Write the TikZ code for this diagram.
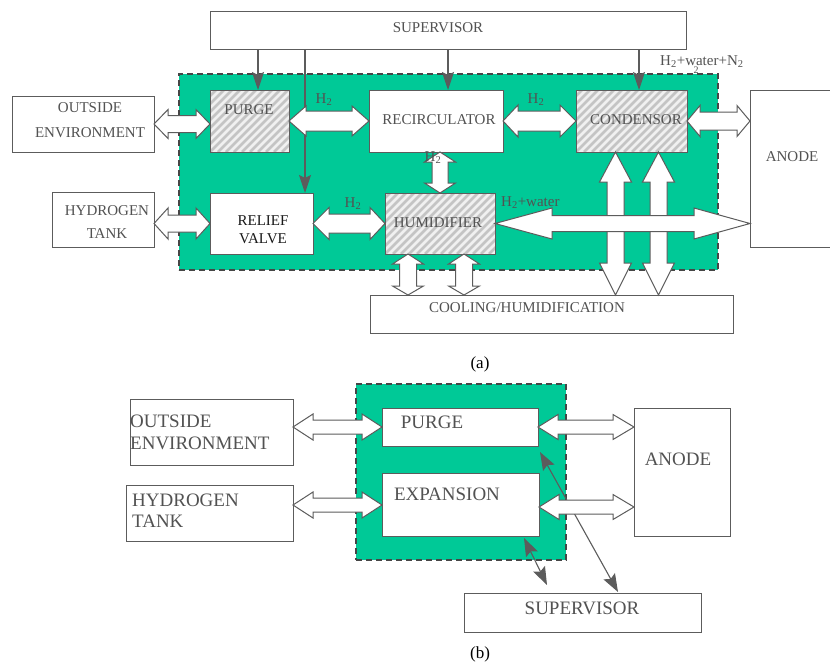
\documentclass[tikz,border=0pt]{standalone}
\usepackage{fontspec}
\setmainfont{Liberation Serif}
\usetikzlibrary{calc,arrows.meta}

\definecolor{ctrlgreen}{RGB}{0,201,151}
\definecolor{edgegray}{RGB}{92,92,92}
\definecolor{inkgray}{RGB}{82,82,82}
\definecolor{dashgray}{RGB}{70,70,70}
\definecolor{hatchbg}{RGB}{240,240,240}
\definecolor{hatchfg}{RGB}{196,196,196}

% horizontal double block arrow: left tip, right tip, half shaft, half head, left head length, right head length
\newcommand\hblk[6]{%
  \draw[blk] let \p1=#1, \p2=#2 in
    (\x1,\y1) -- (\x1+#5pt,\y1+#4pt) -- (\x1+#5pt,\y1+#3pt) -- (\x2-#6pt,\y1+#3pt)
    -- (\x2-#6pt,\y1+#4pt) -- (\x2,\y1) -- (\x2-#6pt,\y1-#4pt) -- (\x2-#6pt,\y1-#3pt)
    -- (\x1+#5pt,\y1-#3pt) -- (\x1+#5pt,\y1-#4pt) -- cycle;}
% vertical double block arrow: top tip, bottom tip, half shaft, half head, top head length, bottom head length
\newcommand\vblk[6]{%
  \draw[blk] let \p1=#1, \p2=#2 in
    (\x1,\y1) -- (\x1+#4pt,\y1-#5pt) -- (\x1+#3pt,\y1-#5pt) -- (\x1+#3pt,\y2+#6pt)
    -- (\x1+#4pt,\y2+#6pt) -- (\x1,\y2) -- (\x1-#4pt,\y2+#6pt) -- (\x1-#3pt,\y2+#6pt)
    -- (\x1-#3pt,\y1-#5pt) -- (\x1-#4pt,\y1-#5pt) -- cycle;}

\tikzset{
  unit/.style={rectangle, draw=edgegray, line width=1pt, fill=white,
    inner sep=0pt, outer sep=0pt, anchor=north west},
  hatched/.style={unit, fill=hatchbg, path picture={
    \foreach \k in {-80,-72,...,150}{
      \draw[hatchfg, line width=2.8pt]
        ([xshift=\k pt]path picture bounding box.south west) -- ++(150pt,150pt);}}},
  zone/.style={rectangle, fill=ctrlgreen, draw=dashgray, line width=1.5pt,
    dash pattern=on 6pt off 4pt, inner sep=0pt, outer sep=0pt, anchor=north west},
  lblA/.style={text=inkgray, font=\fontsize{15}{25}\selectfont, inner sep=0pt, align=center},
  lblB/.style={text=inkgray, font=\fontsize{19}{21.5}\selectfont, inner sep=0pt, align=left},
  flow/.style={text=inkgray, font=\fontsize{15}{18}\selectfont, inner sep=0pt},
  capt/.style={text=black, font=\fontsize{17}{20}\selectfont, inner sep=0pt},
  blk/.style={draw=edgegray, fill=white, line width=1pt, line join=miter},
  cmd/.style={draw=edgegray, line width=1.1pt, -{Stealth[length=18pt,width=12pt,inset=3pt]}},
  link/.style={draw=edgegray, line width=1.1pt,
    {Stealth[length=18pt,width=13pt,inset=3pt]}-{Stealth[length=18pt,width=13pt,inset=3pt]}},
}

\begin{document}
\begin{tikzpicture}[x=1pt,y=-1pt]
\useasboundingbox (0,0) rectangle (830,664);
\clip (0,0) rectangle (830,664);

% ---------------- (a) full anode subsystem ----------------
\node[zone, minimum width=539pt, minimum height=196pt] (zoneA) at (179,74) {};

\node[unit, minimum width=476pt, minimum height=38pt] (supA) at (210,11) {};
\node[unit, minimum width=142pt, minimum height=56pt] (outA) at (12,96) {};
\node[unit, minimum width=102pt, minimum height=55pt] (hydA) at (52,192) {};
\node[hatched, minimum width=79pt, minimum height=62pt] (purgeA) at (210,90) {};
\node[unit, minimum width=134pt, minimum height=62pt] (recA) at (369,90) {};
\node[hatched, minimum width=111pt, minimum height=62pt] (condA) at (576,90) {};
\node[unit, minimum width=103pt, minimum height=61pt] (reliefA) at (210,193) {};
\node[hatched, minimum width=110pt, minimum height=61pt] (humA) at (385,193) {};
% the anode box runs on past the right edge: only three sides are stroked
\node[unit, draw=none, minimum width=130pt, minimum height=157pt] (anodeA) at (750,90) {};
\draw[edgegray, line width=1pt] (anodeA.north east) -- (anodeA.north west)
  -- (anodeA.south west) -- (anodeA.south east);
\node[unit, minimum width=363pt, minimum height=38pt] (coolA) at (370,295) {};

% supervisor command lines
\coordinate (tP) at ($(purgeA.north west)+(48,0)$);
\coordinate (tV) at ($(reliefA.north west)+(95,0)$);
\coordinate (tR) at ($(recA.north west)+(79,0)$);
\coordinate (tC) at ($(condA.north west)+(63,0)$);
\draw[cmd] (tP |- supA.south) -- (tP);
\draw[cmd] (tV |- supA.south) -- (tV);
\draw[cmd] (tR |- supA.south) -- (tR);
\draw[cmd] (tC |- supA.south) -- (tC);

% gas and water flows
\hblk{(outA.east)}{(purgeA.west)}{8.5}{14.5}{14}{14}
\hblk{(purgeA.east)}{(recA.west)}{10}{15}{17}{17}
\hblk{(recA.east)}{(condA.west)}{10}{16}{15}{16}
\hblk{(condA.east)}{(anodeA.west)}{9}{15.5}{13}{13}
\hblk{(hydA.east |- reliefA.west)}{(reliefA.west)}{8.5}{15.5}{14}{14}
\hblk{(reliefA.east)}{(humA.west)}{9.5}{16}{16}{15}
\vblk{(recA.south -| humA.north)}{($(humA.north)+(3,0)$)}{8}{15.5}{10}{10}
\vblk{($(condA.south west)+(39.5,0)$)}{(coolA.north)}{8.5}{16}{30}{32}
\vblk{($(condA.south west)+(82.5,0)$)}{(coolA.north)}{8.5}{16}{30}{32}
\hblk{(humA.east)}{(anodeA.west)}{8}{15.5}{57}{56}
\vblk{($(humA.south west)+(23,0)$)}{(coolA.north)}{8.5}{15.5}{10}{9}
\vblk{($(humA.south west)+(79,0)$)}{(coolA.north)}{8.5}{15.5}{10}{9}

% block texts
\node[lblA] (supAt) at (438,28) {SUPERVISOR};
\node[lblA] (outAt) at (90,120.5) {OUTSIDE\\ENVIRONMENT};
\node[lblA, font=\fontsize{15}{23}\selectfont] (hydAt) at (107,222.5) {HYDROGEN\\TANK};
\node[lblA] (purgeAt) at (249,110) {PURGE};
\node[lblA] (recAt) at (439,120) {RECIRCULATOR};
\node[lblA] (condAt) at (636,120) {CONDENSOR};
\node[lblA, text=black!90, font=\fontsize{15}{18}\selectfont] (reliefAt) at (263,229.5) {RELIEF\\VALVE};
\node[lblA] (humAt) at (438,223) {HUMIDIFIER};
\node[lblA] (anodeAt) at (792,157) {ANODE};
\node[lblA] (coolAt) at (527,308) {COOLING/HUMIDIFICATION};

% flow labels
\node[flow, anchor=base] (fl1) at (324,103) {H\textsubscript{2}};
\node[flow, anchor=base] (fl2) at (536,103) {H\textsubscript{2}};
\node[flow, anchor=base] (fl3) at (433,161) {H\textsubscript{2}};
\node[flow, anchor=base] (fl4) at (353,207) {H\textsubscript{2}};
\node[flow, anchor=base west] (fl5) at (501,206) {H\textsubscript{2}+water};
\node[flow, anchor=base west] (fl6) at (660,65) {H\textsubscript{2}+water+N\textsubscript{2}};
\node[flow, anchor=base, font=\fontsize{10}{12}\selectfont] (fl6s) at (696,73) {2};

\node[capt] (captA) at (480,364) {(a)};

% ---------------- (b) reduced anode subsystem ----------------
\node[zone, minimum width=210pt, minimum height=176pt] (zoneB) at (356,384) {};

\node[unit, minimum width=163pt, minimum height=66pt] (outB) at (130,399) {};
\node[unit, minimum width=167pt, minimum height=56pt] (hydB) at (126,485) {};
\node[unit, minimum width=156pt, minimum height=38pt] (purgeB) at (382,408) {};
\node[unit, minimum width=157pt, minimum height=63pt] (expB) at (382,473) {};
\node[unit, minimum width=96pt, minimum height=128pt] (anodeB) at (634,408) {};
\node[unit, minimum width=237pt, minimum height=39pt] (supB) at (464,593) {};

% supervisor links
\coordinate (sP) at ($(purgeB.south east)+(2,6)$);
\coordinate (sS) at ($(supB.north west)+(154,-1)$);
\coordinate (sE) at ($(expB.south east)+(-15,2)$);
\coordinate (sF) at ($(supB.north west)+(83,-8)$);
\draw[link] (sP) -- (sS);
\draw[link] (sE) -- (sF);

\hblk{(outB.east |- purgeB.west)}{(purgeB.west)}{7}{13}{20}{20}
\hblk{(hydB.east |- 0,505)}{(expB.west)}{7}{13}{20}{20}
\hblk{(purgeB.east)}{(anodeB.west)}{7}{12.5}{20}{21}
\hblk{(expB.east |- 0,507)}{(anodeB.west)}{7}{12.5}{20}{21}

\node[lblB, anchor=west] (outBt) at (130,432.5) {OUTSIDE\\ENVIRONMENT};
\node[lblB, anchor=west] (hydBt) at (132,510.5) {HYDROGEN\\TANK};
\node[lblB] (purgeBt) at (432,422) {PURGE};
\node[lblB] (expBt) at (447,494) {EXPANSION};
\node[lblB] (anodeBt) at (678,459) {ANODE};
\node[lblB] (supBt) at (582,608) {SUPERVISOR};

\node[capt] (captB) at (480,654) {(b)};
\end{tikzpicture}
\end{document}
